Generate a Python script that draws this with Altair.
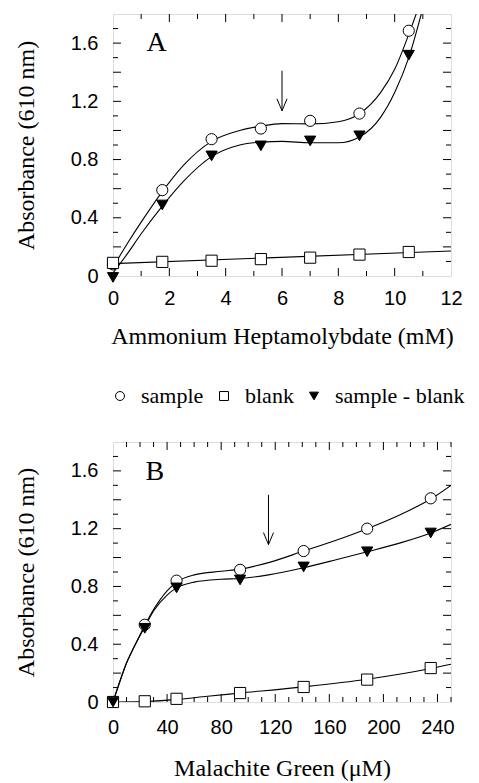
import altair as alt
import pandas as pd

SERIES = ["sample", "blank", "sample - blank"]

# ---------------- Panel A (Ammonium Heptamolybdate, mM) ----------------
a_x = [0, 1.75, 3.5, 5.25, 7, 8.75, 10.5]
a_sample = [0.08, 0.59, 0.94, 1.013, 1.066, 1.116, 1.685]
a_blank = [0.09, 0.097, 0.105, 0.116, 0.126, 0.147, 0.165]
a_diff = [-0.01, 0.488, 0.825, 0.894, 0.928, 0.963, 1.517]

# fitted curves
a_curve_x = [0, 0.5, 1, 1.75, 2.5, 3.5, 4.5, 5.25, 6, 7, 8, 8.75, 9.5, 10, 10.5, 11]
a_curve_sample = [0.06, 0.22, 0.37, 0.58, 0.76, 0.925, 1.0, 1.03, 1.047, 1.045, 1.06, 1.115, 1.26, 1.42, 1.66, 1.93]
a_curve_diff = [0.02, 0.15, 0.29, 0.48, 0.65, 0.82, 0.9, 0.92, 0.925, 0.915, 0.915, 0.955, 1.09, 1.26, 1.5, 1.84]
a_curve_blank_x = [0, 12]
a_curve_blank = [0.085, 0.172]

a_arrow = {"x": 6.0, "top": 1.41, "tip": 1.135}
a_letter = {"x": 1.55, "y": 1.6, "t": "A"}

# ---------------- Panel B (Malachite Green, uM) ----------------
b_x = [0, 23.5, 47, 94, 141, 188, 235]
b_sample = [0, 0.535, 0.84, 0.915, 1.045, 1.2, 1.41]
b_blank = [0, 0.005, 0.022, 0.062, 0.104, 0.155, 0.235]
b_diff = [0, 0.51, 0.79, 0.845, 0.935, 1.04, 1.17]

b_curve_x = [0, 5, 10, 15, 23.5, 30, 40, 47, 60, 80, 94, 115, 141, 165, 188, 212, 235, 250]
b_curve_sample = [0, 0.14, 0.27, 0.37, 0.53, 0.64, 0.77, 0.83, 0.88, 0.905, 0.92, 0.965, 1.045, 1.12, 1.2, 1.295, 1.405, 1.5]
b_curve_diff = [0, 0.14, 0.27, 0.37, 0.52, 0.63, 0.74, 0.79, 0.83, 0.85, 0.855, 0.88, 0.93, 0.985, 1.04, 1.1, 1.17, 1.23]
b_curve_blank_x = [0, 23.5, 47, 70, 94, 141, 188, 235, 250]
b_curve_blank = [0, 0.003, 0.018, 0.04, 0.062, 0.105, 0.158, 0.232, 0.262]

b_arrow = {"x": 115, "top": 1.434, "tip": 1.09}
b_letter = {"x": 31, "y": 1.59, "t": "B"}

# axis ticks / labels
y_labels = [0, 0.4, 0.8, 1.2, 1.6]
y_major = [0.2, 0.4, 0.6, 0.8, 1.0, 1.2, 1.4, 1.6]
y_minor = [0.1, 0.3, 0.5, 0.7, 0.9, 1.1, 1.3, 1.5, 1.7]
a_x_labels = [0, 2, 4, 6, 8, 10, 12]
a_x_major = [2, 4, 6, 8, 10]
a_x_minor = [1, 3, 5, 7, 9, 11]
b_x_labels = [0, 40, 80, 120, 160, 200, 240]
b_x_major = [40, 80, 120, 160, 200, 240]
b_x_minor = [10, 20, 30, 50, 60, 70, 90, 100, 110, 130, 140, 150, 170, 180, 190, 210, 220, 230, 250]

TICK_FONT = "Liberation Sans"
SERIF = "Liberation Serif"
W = 338


def long_df(xs, cols):
    rows = []
    for name, ys in cols:
        for xv, yv in zip(xs, ys):
            rows.append({"x": xv, "y": yv, "series": name})
    return pd.DataFrame(rows)


def panel(px, ps, pb, pd_, cx, cs, cd, cbx, cb, arrow, letter, xdom, xlabels, xmaj, xmin,
          xtitle, H, show_legend, lab_pad, title_pad):
    xs = alt.Scale(domain=xdom, nice=False, zero=False)
    ys = alt.Scale(domain=[0, 1.8], nice=False, zero=False)
    xa = alt.Axis(values=xlabels, title=xtitle, ticks=False, domain=False, grid=False,
                  labelFont=TICK_FONT, labelFontSize=20, labelColor="black", labelPadding=lab_pad,
                  titleFont=SERIF, titleFontSize=24, titleFontWeight="normal", titleColor="black",
                  titlePadding=title_pad, labelFlush=False, labelOverlap=False, format="d")
    ya = alt.Axis(values=y_labels, title="Absorbance (610 nm)", ticks=False, domain=False, grid=False,
                  labelFont=TICK_FONT, labelFontSize=20, labelColor="black", labelPadding=15,
                  titleFont=SERIF, titleFontSize=24, titleFontWeight="normal", titleColor="black",
                  titlePadding=32, labelFlush=False, labelOverlap=False,
                  labelExpr="datum.value == 0 ? '0' : format(datum.value, '.1f')")
    X = alt.X("x:Q", scale=xs, axis=xa)
    Y = alt.Y("y:Q", scale=ys, axis=ya)

    curves = pd.concat([
        long_df(cx, [("sample", cs), ("sample - blank", cd)]),
        long_df(cbx, [("blank", cb)]),
    ])
    pts = long_df(px, [("sample", ps), ("blank", pb), ("sample - blank", pd_)])

    if show_legend:
        leg = alt.Legend(orient="none", legendX=-4, legendY=371, direction="horizontal",
                         title=None, labelFont=SERIF, labelFontSize=22, labelColor="black",
                         symbolSize=80, symbolStrokeWidth=1,
                         labelOffset=10, columnPadding=9, padding=0)
    else:
        leg = None

    line_layer = alt.Chart(curves).mark_line(
        clip=True, color="black", strokeWidth=1.1, interpolate="monotone"
    ).encode(x=X, y=Y, detail="series:N")

    point_layer = alt.Chart(pts).mark_point(
        filled=True, strokeWidth=1, opacity=1, size=125
    ).encode(
        x=X, y=Y,
        shape=alt.Shape("series:N", scale=alt.Scale(domain=SERIES, range=["circle", "square", "triangle-down"]), legend=leg),
        fill=alt.Fill("series:N", scale=alt.Scale(domain=SERIES, range=["white", "white", "black"]), legend=leg),
        stroke=alt.Stroke("series:N", scale=alt.Scale(domain=SERIES, range=["black", "black", "black"]), legend=leg),
    )

    def xticks(vals, L):
        d = pd.DataFrame({"x": vals})
        bot = alt.Chart(d).mark_rule(color="black", strokeWidth=1).encode(x=X, y=alt.value(H), y2=alt.value(H - L))
        top = alt.Chart(d).mark_rule(color="black", strokeWidth=1).encode(x=X, y=alt.value(0), y2=alt.value(L))
        return [bot, top]

    def yticks(vals, L):
        d = pd.DataFrame({"y": vals})
        lft = alt.Chart(d).mark_rule(color="black", strokeWidth=1).encode(y=Y, x=alt.value(0), x2=alt.value(L))
        rgt = alt.Chart(d).mark_rule(color="black", strokeWidth=1).encode(y=Y, x=alt.value(W), x2=alt.value(W - L))
        return [lft, rgt]

    ad = pd.DataFrame({"x": [arrow["x"]], "y": [arrow["top"]], "y2": [arrow["tip"]]})
    shaft = alt.Chart(ad).mark_rule(color="black", strokeWidth=1).encode(x=X, y=Y, y2="y2:Q")
    hd = pd.DataFrame({"x": [arrow["x"]], "y": [arrow["tip"]]})
    head = alt.Chart(hd).mark_point(
        shape="M-0.42,-1L0,0L0.42,-1", size=576, filled=False, stroke="black", strokeWidth=1, opacity=1
    ).encode(x=X, y=Y)

    ld = pd.DataFrame({"x": [letter["x"]], "y": [letter["y"]], "t": [letter["t"]]})
    letter_layer = alt.Chart(ld).mark_text(
        font=SERIF, fontSize=28, color="black", align="center", baseline="middle"
    ).encode(x=X, y=Y, text="t:N")

    layers = [line_layer] + xticks(xmaj, 8) + xticks(xmin, 5) + yticks(y_major, 8) + yticks(y_minor, 5) + \
        [shaft, head, letter_layer, point_layer]
    return alt.layer(*layers).properties(width=W, height=H)


pa = panel(a_x, a_sample, a_blank, a_diff, a_curve_x, a_curve_sample, a_curve_diff,
           a_curve_blank_x, a_curve_blank, a_arrow, a_letter, [0, 12], a_x_labels, a_x_major, a_x_minor,
           "Ammonium Heptamolybdate (mM)", 262, True, 12, 16)
pb = panel(b_x, b_sample, b_blank, b_diff, b_curve_x, b_curve_sample, b_curve_diff,
           b_curve_blank_x, b_curve_blank, b_arrow, b_letter, [0, 250], b_x_labels, b_x_major, b_x_minor,
           "Malachite Green (\u03bcM)", 260, False, 15, 19)

chart = alt.vconcat(pa, pb, spacing=33).resolve_scale(
    shape="independent", fill="independent", stroke="independent"
).resolve_legend(
    shape="independent", fill="independent", stroke="independent"
).configure_view(
    stroke="black", strokeWidth=1
).properties(
    padding={"left": 5, "top": 5, "right": 0, "bottom": 5}
).configure(background="white")

chart.save("out.html", embed_options={"renderer": "svg", "actions": False})
